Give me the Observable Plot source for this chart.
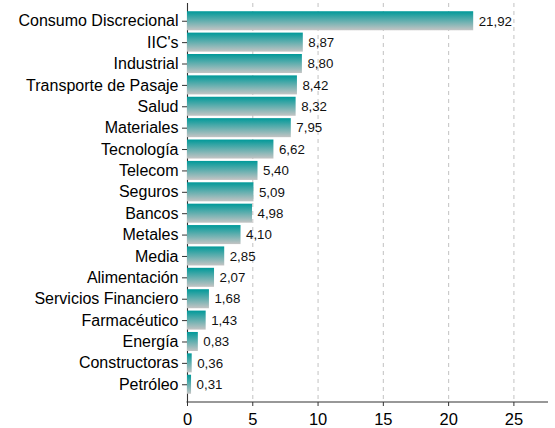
<!DOCTYPE html>
<html><head><meta charset="utf-8">
<script src="https://cdn.jsdelivr.net/npm/d3@7"></script>
<script src="https://cdn.jsdelivr.net/npm/@observablehq/plot@0.6"></script>
<style>body{margin:0;background:#fff} svg{display:block}</style>
</head><body><div id="chart"></div>
<script>
const sectors = ["Consumo Discrecional","IIC's","Industrial","Transporte de Pasaje","Salud","Materiales","Tecnología","Telecom","Seguros","Bancos","Metales","Media","Alimentación","Servicios Financiero","Farmacéutico","Energía","Constructoras","Petróleo"];
const values = [21.92,8.87,8.80,8.42,8.32,7.95,6.62,5.40,5.09,4.98,4.10,2.85,2.07,1.68,1.43,0.83,0.36,0.31];
const xTicks = [0,5,10,15,20,25];
const data = sectors.map((s,i)=>({sector:s, value:values[i]}));
const fmt = v => v.toFixed(2).replace(".", ",");
const chart = Plot.plot({
  width:555, height:428, marginLeft:187, marginRight:7, marginTop:3, marginBottom:26,
  style:{fontFamily:"'Liberation Sans', Arial, sans-serif", background:"#fff", color:"#000"},
  x:{domain:[0,27.65]},
  y:{domain:sectors, paddingInner:0.11, paddingOuter:0.385, round:false},
  marks:[
    Plot.gridX(xTicks.filter(d=>d>0), {stroke:"#c8c8c8", strokeOpacity:1, strokeDasharray:"4,4", strokeWidth:1.1}),
    Plot.ruleX([0], {stroke:"#333", strokeWidth:1.1}),
    Plot.barX(data, {x:"value", y:"sector", fill:"url(#barGrad)"}),
    Plot.text(data, {x:"value", y:"sector", text:d=>fmt(d.value), textAnchor:"start", dx:5, fontSize:13.3, fill:"#111"}),
    Plot.axisY({tickSize:5, tickPadding:4, fontSize:16, stroke:"#333", label:null}),
    Plot.axisX({ticks:xTicks, tickSize:4, tickPadding:7, fontSize:16.5, stroke:"#333", label:null, tickFormat:d=>String(d)})
  ]
});
const svg = d3.select(chart);
const defs = svg.insert("defs", ":first-child");
const g = defs.append("linearGradient").attr("id","barGrad").attr("x1",0).attr("y1",0).attr("x2",0).attr("y2",1);
g.append("stop").attr("offset","0%").attr("stop-color","#009999");
g.append("stop").attr("offset","100%").attr("stop-color","#c4c4c4");
const x = chart.scale("x");
svg.append("line").attr("x1", x.apply(0)-0.5).attr("x2", x.apply(27.65)).attr("y1", 428-26).attr("y2", 428-26).attr("stroke","#333").attr("stroke-width",1.1);
document.getElementById("chart").appendChild(chart);
</script></body></html>
